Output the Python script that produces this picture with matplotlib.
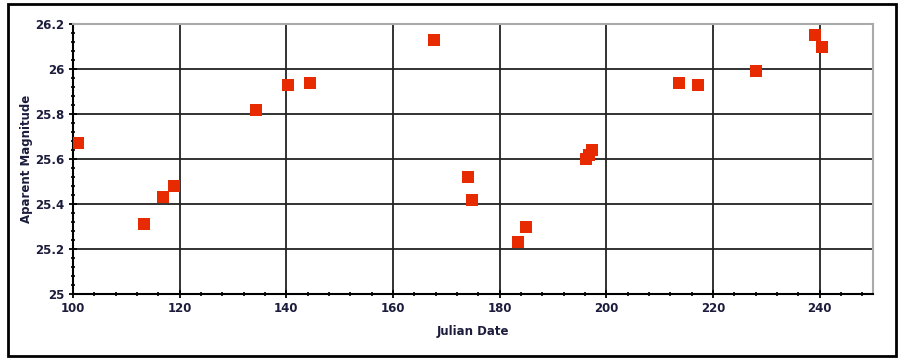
import matplotlib
matplotlib.use("Agg")
import matplotlib.pyplot as plt
from matplotlib.patches import Rectangle
from matplotlib.ticker import MultipleLocator

julian_date = [100.9, 113.3, 116.9, 118.9, 134.3, 140.3, 144.5, 167.7, 174.1, 174.8,
               183.5, 185.0, 196.1, 196.8, 197.4, 213.7, 217.1, 228.1, 239.2, 240.5]
magnitude = [25.67, 25.31, 25.43, 25.48, 25.82, 25.93, 25.94, 26.13, 25.52, 25.42,
             25.23, 25.30, 25.60, 25.62, 25.64, 25.94, 25.93, 25.99, 26.15, 26.10]
x_ticks = [100, 120, 140, 160, 180, 200, 220, 240]
y_ticks = [25, 25.2, 25.4, 25.6, 25.8, 26, 26.2]
y_tick_labels = ["25", "25.2", "25.4", "25.6", "25.8", "26", "26.2"]

fig = plt.figure(figsize=(9, 3.58), dpi=100)
fig.patches.append(Rectangle((8/900, 2/358), 888/900, 352/358, transform=fig.transFigure,
                             fill=False, edgecolor="black", linewidth=2))
ax = fig.add_axes([73/900, 1 - 294/358, 800/900, 270/358])

ax.scatter(julian_date, magnitude, marker="s", s=80, color="#e82a00", zorder=3, linewidths=0)

ax.set_xlim(100, 250)
ax.set_ylim(25, 26.2)
ax.set_xticks(x_ticks)
ax.set_yticks(y_ticks)
ax.set_yticklabels(y_tick_labels)
ax.xaxis.set_minor_locator(MultipleLocator(4))
ax.yaxis.set_minor_locator(MultipleLocator(0.04))
ax.grid(True, which="major", color="#222222", linewidth=1.3)
ax.set_axisbelow(True)
ax.tick_params(which="major", direction="inout", length=6, width=1.3, colors="black",
               labelcolor="#1c1c3c", labelsize=8.5, pad=3)
ax.tick_params(which="minor", direction="inout", length=3, width=1.2, colors="black")
for lab in ax.get_xticklabels() + ax.get_yticklabels():
    lab.set_fontweight("bold")

for side in ["left", "bottom"]:
    ax.spines[side].set_color("black")
    ax.spines[side].set_linewidth(1.5)
for side in ["top", "right"]:
    ax.spines[side].set_color("#aaaaaa")
    ax.spines[side].set_linewidth(1.5)

ax.set_xlabel("Julian Date", fontsize=8.5, fontweight="bold", color="#1c1c3c", labelpad=7)
ax.set_ylabel("Aparent Magnitude", fontsize=8.5, fontweight="bold", color="#1c1c3c", labelpad=2)

fig.savefig("out.png", dpi=100)
